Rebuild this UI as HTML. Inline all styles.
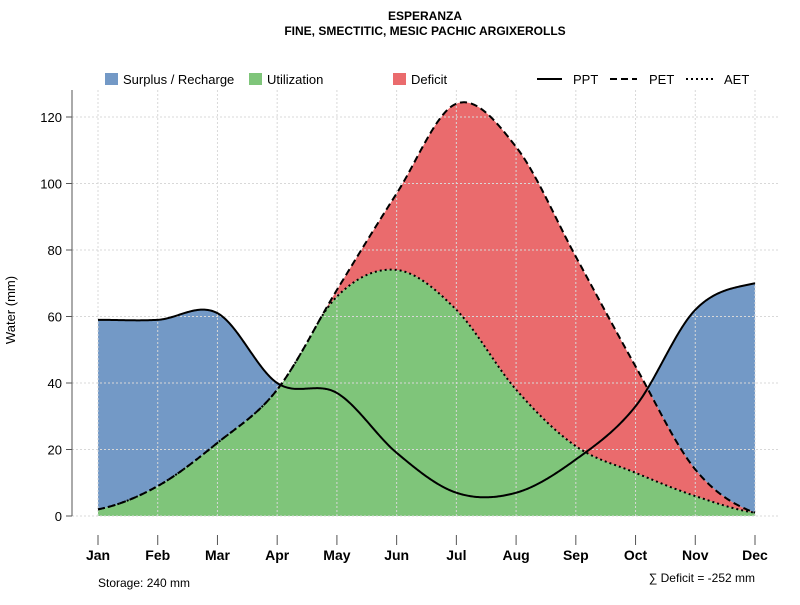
<!DOCTYPE html>
<html><head><meta charset="utf-8"><style>
body{margin:0;background:#fff}
svg{font-family:"Liberation Sans",sans-serif}
</style></head><body>
<svg id="c" width="800" height="600">
<text x="425" y="20" text-anchor="middle" font-size="12" font-weight="bold">ESPERANZA</text>
<text x="425" y="35" text-anchor="middle" font-size="12" font-weight="bold">FINE, SMECTITIC, MESIC PACHIC ARGIXEROLLS</text>
<g id="areas"></g>
<g id="grid"></g>
<g id="lines"></g>
<g id="axes"></g>
<g font-size="13">
<rect x="105" y="73" width="13" height="12" fill="#7399c6"/>
<text x="123" y="84">Surplus / Recharge</text>
<rect x="249" y="73" width="13" height="12" fill="#7fc57a"/>
<text x="267" y="84">Utilization</text>
<rect x="393" y="73" width="13" height="12" fill="#ea6b6d"/>
<text x="411" y="84">Deficit</text>
<line x1="537" y1="79" x2="562" y2="79" stroke="#000" stroke-width="2"/>
<text x="573" y="84">PPT</text>
<line x1="610" y1="79" x2="637" y2="79" stroke="#000" stroke-width="2" stroke-dasharray="7,4"/>
<text x="649" y="84">PET</text>
<line x1="686" y1="79" x2="713" y2="79" stroke="#000" stroke-width="2" stroke-dasharray="2,3"/>
<text x="724" y="84">AET</text>
</g>
<text x="15" y="310" font-size="13" text-anchor="middle" transform="rotate(-90 15 310)">Water (mm)</text>
<text x="98" y="587" font-size="12">Storage: 240 mm</text>
<text x="755" y="582" font-size="12" text-anchor="end">∑ Deficit = -252 mm</text>
</svg>
<script>
const months=["Jan","Feb","Mar","Apr","May","Jun","Jul","Aug","Sep","Oct","Nov","Dec"];
const ppt=[59,59,61,40,37,19,7,7,17,33,62,70];
const pet=[2,9,22,38,68,97,124,111,78,45,14,1];
const aet=[2,9,22,38,66,74,62,38,21,13,6,1];
const yTicks=[0,20,40,60,80,100,120];
const NS="http://www.w3.org/2000/svg";
const X=i=>98+i*(755-98)/11, Y=v=>516-v*(516-117)/120;
function mk(t,a,p){const e=document.createElementNS(NS,t);for(const k in a)e.setAttribute(k,a[k]);p.appendChild(e);return e;}
function interp(arr,t){const n=arr.length;let i=Math.min(Math.floor(t),n-2);const u=t-i;
 const p0=arr[Math.max(i-1,0)],p1=arr[i],p2=arr[i+1],p3=arr[Math.min(i+2,n-1)];
 return 0.5*((2*p1)+(-p0+p2)*u+(2*p0-5*p1+4*p2-p3)*u*u+(-p0+3*p1-3*p2+p3)*u*u*u);}
const g=document.getElementById('grid'),A=document.getElementById('areas'),L=document.getElementById('lines'),ax=document.getElementById('axes');
yTicks.forEach(v=>{const l=mk('line',{x1:72,x2:780,y1:Y(v),y2:Y(v),stroke:'#d8d8d8','stroke-dasharray':'2,2'},g);

const t=mk('line',{x1:66,x2:72,y1:Y(v),y2:Y(v),stroke:'#555'},ax);
const s=mk('text',{x:62,y:Y(v)+5,'text-anchor':'end','font-size':13},ax);s.textContent=v;});
months.forEach((m,i)=>{const l=mk('line',{x1:X(i),x2:X(i),y1:90,y2:516,stroke:'#d8d8d8','stroke-dasharray':'2,2'},g);

const t=mk('line',{x1:X(i),x2:X(i),y1:535,y2:545,stroke:'#555'},ax);
const s=mk('text',{x:X(i),y:560,'text-anchor':'middle','font-size':14,'font-weight':'bold'},ax);s.textContent=m;});
const yl=mk('line',{x1:72,x2:72,y1:90,y2:516,stroke:'#555'},ax);
const T=[];for(let t=0;t<=11.0001;t+=0.02)T.push(Math.min(t,11));
const sp=T.map(t=>interp(ppt,t)),se=T.map(t=>interp(pet,t)),sa=T.map(t=>Math.min(interp(aet,t),interp(pet,t)));
function poly(top,bot){let p=T.map((t,i)=>X(t)+','+Y(top[i]));for(let i=T.length-1;i>=0;i--)p.push(X(T[i])+','+Y(bot[i]));return p.join(' ');}
const zero=T.map(()=>0),blueTop=T.map((t,i)=>Math.max(sp[i],se[i]));
const b=mk('polygon',{points:poly(blueTop,se),fill:'#7399c6'},A);
const r=mk('polygon',{points:poly(se,sa),fill:'#ea6b6d'},A);
const gr=mk('polygon',{points:poly(sa,zero),fill:'#7fc57a'},A);
function line(s,dash,name){const e=mk('polyline',{points:T.map((t,i)=>X(t)+','+Y(s[i])).join(' '),fill:'none',stroke:'#000','stroke-width':2,'stroke-dasharray':dash},L);
}
line(sa,'2,3','aet-line');line(se,'7,4','pet-line');line(sp,'none','ppt-line');
</script>
</body></html>
